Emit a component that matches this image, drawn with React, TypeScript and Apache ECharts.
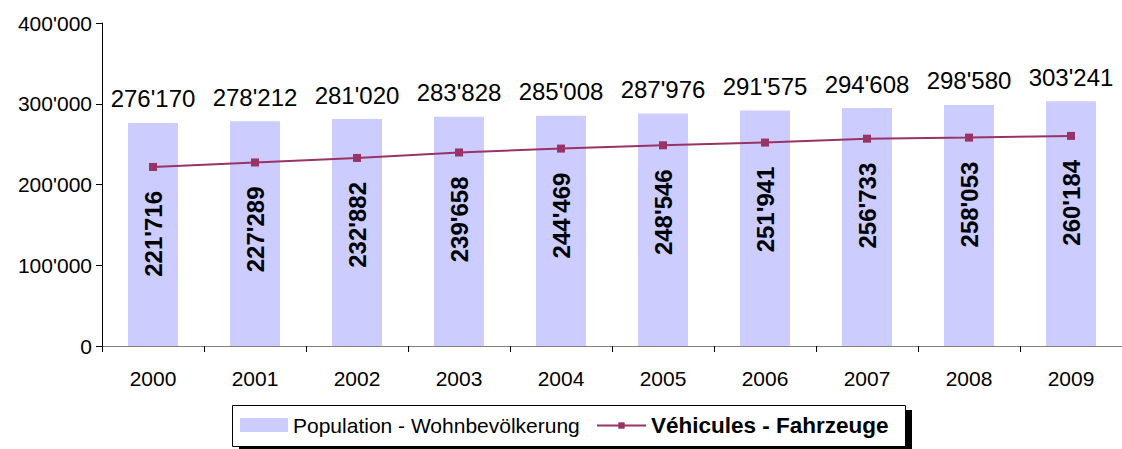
import React, { useEffect, useRef } from "react";
import * as echarts from "echarts";

const years = ["2000", "2001", "2002", "2003", "2004", "2005", "2006", "2007", "2008", "2009"];
const population = [276170, 278212, 281020, 283828, 285008, 287976, 291575, 294608, 298580, 303241];
const vehicles = [221716, 227289, 232882, 239658, 244469, 248546, 251941, 256733, 258053, 260184];
const popName = "Population - Wohnbevölkerung";
const vehName = "Véhicules - Fahrzeuge";

const FONT = "'Liberation Sans', Arial, sans-serif";
const fmt = (v: number) => String(v).replace(/\B(?=(\d{3})+(?!\d))/g, "'");

export default function App() {
  const ref = useRef<HTMLDivElement>(null);
  useEffect(() => {
    if (!ref.current) return;
    const chart = echarts.init(ref.current, null, { renderer: "svg" });
    chart.setOption({
      animation: false,
      backgroundColor: "#ffffff",
      textStyle: { fontFamily: FONT },
      grid: { left: 102, right: 0, top: 23, bottom: 103, containLabel: false },
      graphic: [
        { type: "rect", z: 1, shape: { x: 239, y: 410, width: 673, height: 41 }, style: { fill: "#000" } },
        { type: "rect", z: 2, shape: { x: 232.5, y: 405.5, width: 673, height: 41 }, style: { fill: "#fff", stroke: "#000", lineWidth: 1 } },
      ],
      legend: [
        {
          z: 10,
          left: 240,
          top: 414,
          padding: 0,
          itemWidth: 48,
          itemHeight: 14,
          itemGap: 5,
          textStyle: { fontFamily: FONT, fontSize: 21, color: "#000", lineHeight: 22 },
          data: [{ name: popName, icon: "rect" }],
        },
        {
          z: 10,
          left: 596,
          top: 414,
          padding: 0,
          itemWidth: 49,
          itemHeight: 8,
          textStyle: { fontFamily: FONT, fontSize: 22.5, fontWeight: "bold", color: "#000", lineHeight: 22 },
          data: [{ name: vehName }],
        },
      ],
      xAxis: {
        type: "category",
        data: years,
        boundaryGap: true,
        axisLine: { lineStyle: { color: "#808080", width: 1 } },
        axisTick: { show: true, length: 6, lineStyle: { color: "#000" } },
        axisLabel: { color: "#000", fontSize: 21, fontFamily: FONT, margin: 22 },
        splitLine: { show: false },
      },
      yAxis: {
        type: "value",
        min: 0,
        max: 400000,
        interval: 100000,
        axisLine: { show: true, lineStyle: { color: "#000", width: 1 } },
        axisTick: { show: true, length: 6, lineStyle: { color: "#000" } },
        axisLabel: { color: "#000", fontSize: 21, fontFamily: FONT, margin: 10, formatter: (v: number) => fmt(v) },
        splitLine: { show: false },
      },
      series: [
        {
          name: popName,
          type: "bar",
          data: population,
          barWidth: 50,
          itemStyle: { color: "#ccccff" },
          label: {
            show: true,
            position: "top",
            distance: 12,
            color: "#000",
            fontSize: 24,
            fontFamily: FONT,
            formatter: (p: any) => fmt(p.value),
          },
        },
        {
          name: vehName,
          type: "line",
          data: vehicles,
          symbol: "rect",
          symbolSize: 8,
          lineStyle: { color: "#993366", width: 2 },
          itemStyle: { color: "#993366" },
          label: {
            show: true,
            position: "bottom",
            distance: 20,
            rotate: 90,
            align: "right",
            verticalAlign: "middle",
            color: "#000",
            fontSize: 24,
            fontWeight: "bold",
            fontFamily: FONT,
            formatter: (p: any) => fmt(p.value),
          },
        },
      ],
    });
    return () => chart.dispose();
  }, []);
  return <div ref={ref} style={{ width: 1122, height: 449, position: "absolute", left: 0, top: 0 }} />;
}
